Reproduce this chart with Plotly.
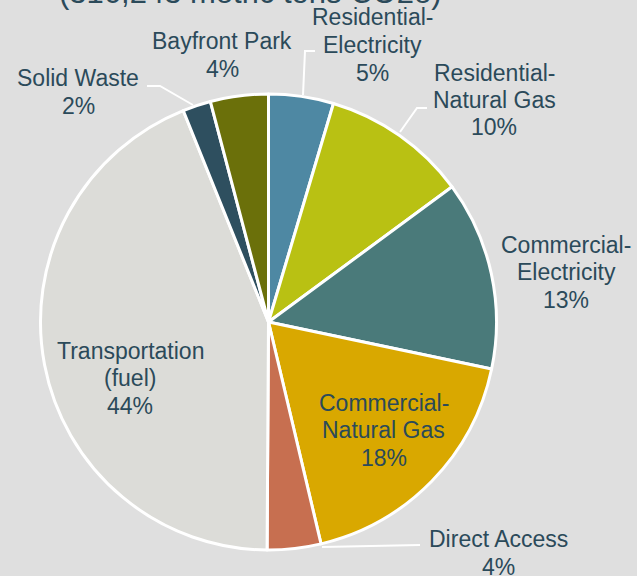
import math
import plotly.graph_objects as go

W, H = 637, 576

# ---------------------------------------------------------------------
# Data: emissions share by sector
# ---------------------------------------------------------------------
sectors = ["Residential-Electricity", "Residential-Natural Gas", "Commercial-Electricity",
           "Commercial-Natural Gas", "Direct Access", "Transportation (fuel)",
           "Solid Waste", "Bayfront Park"]
label_lines = [["Residential-", "Electricity"], ["Residential-", "Natural Gas"],
               ["Commercial-", "Electricity"], ["Commercial-", "Natural Gas"],
               ["Direct Access"], ["Transportation", "(fuel)"], ["Solid Waste"], ["Bayfront Park"]]
shares = [4.6, 10.3, 13.4, 18.0, 3.8, 43.8, 2.0, 4.1]
colors = ["#4e88a3", "#b9c113", "#4a7a7a", "#d9a800", "#c76f50", "#dcdcd8", "#2e4f5f", "#6b700a"]

# label block centres (px), where the original put them
label_pos = [(372, 45), (494, 100), (566, 272), (384, 430), (498, 553), (130, 378), (78, 92), (222, 55)]

BG = "#dfdfdf"
TXT = "#2b4a5a"
FONT = "Liberation Sans, Arial"
LINE_H = 27.5

# pie geometry in pixels
cx, cy, r = 268.5, 322, 228


def px(x):
    return x / W


def py(y):
    return 1 - y / H


fig = go.Figure(go.Pie(
    labels=sectors, values=shares, sort=False, direction="clockwise", rotation=0,
    marker=dict(colors=colors, line=dict(color="white", width=3)),
    textinfo="none", hoverinfo="label+percent",
    domain=dict(x=[px(cx - r), px(cx + r)], y=[py(cy + r), py(cy - r)]),
    showlegend=False,
))

total = sum(shares)
annotations = []
for lines, val, (lx, ly) in zip(label_lines, shares, label_pos):
    rows = lines + [f"{round(val / total * 100)}%"]
    top = ly - (len(rows) - 1) * LINE_H / 2
    for k, row in enumerate(rows):
        annotations.append(dict(
            text=row, x=px(lx), y=py(top + k * LINE_H),
            xref="paper", yref="paper", showarrow=False,
            xanchor="center", yanchor="middle",
            font=dict(family=FONT, size=23, color=TXT),
        ))

# title, mostly cut off at the top of the frame
annotations.append(dict(
    text="(316,243 metric tons CO2e)", x=px(250), y=py(12), xref="paper", yref="paper",
    showarrow=False, xanchor="center", yanchor="bottom",
    font=dict(family=FONT, size=31, color=TXT),
))

# leader lines from outside labels to the pie edge
leaders = [
    [(315, 51), (305, 51), (303, 95)],
    [(427, 108), (417, 108), (400, 132)],
    [(420, 545), (322, 547)],
    [(147, 86), (160, 86), (193, 105)],
]
shapes = []
for pts in leaders:
    d = "M " + " L ".join(f"{px(x)},{py(y)}" for x, y in pts)
    shapes.append(dict(type="path", path=d, xref="paper", yref="paper",
                       line=dict(color="white", width=2)))

fig.update_layout(
    width=W, height=H, margin=dict(l=0, r=0, t=0, b=0),
    paper_bgcolor=BG, plot_bgcolor=BG,
    annotations=annotations, shapes=shapes,
)

fig.write_html("out.html", config={"displayModeBar": False},
               post_script="document.body.style.margin='0';")
